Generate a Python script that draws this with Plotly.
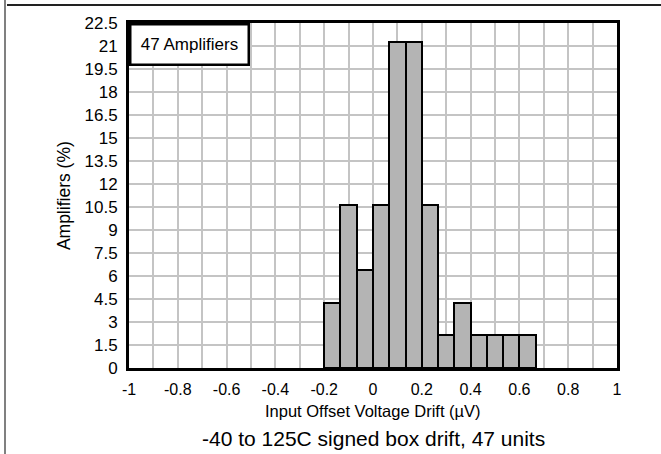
import plotly.graph_objects as go

# Histogram data: bin centres (µV) and percentage of amplifiers
bin_centers = [-0.1667, -0.1, -0.0333, 0.0333, 0.1, 0.1667, 0.2333, 0.3, 0.3667, 0.4333, 0.5, 0.5667, 0.6333]
percent = [4.26, 10.64, 6.38, 10.64, 21.28, 21.28, 10.64, 2.13, 4.26, 2.13, 2.13, 2.13, 2.13]
bin_width = 1 / 15

y_ticks = [0, 1.5, 3, 4.5, 6, 7.5, 9, 10.5, 12, 13.5, 15, 16.5, 18, 19.5, 21, 22.5]
y_labels = ["0", "1.5", "3", "4.5", "6", "7.5", "9", "10.5", "12", "13.5", "15", "16.5", "18", "19.5", "21", "22.5"]
x_ticks = [-1, -0.8, -0.6, -0.4, -0.2, 0, 0.2, 0.4, 0.6, 0.8, 1]
x_labels = ["-1", "-0.8", "-0.6", "-0.4", "-0.2", "0", "0.2", "0.4", "0.6", "0.8", "1"]

FONT = "Arial, Liberation Sans, sans-serif"

fig = go.Figure()
fig.add_trace(go.Bar(
    x=bin_centers, y=percent, width=bin_width,
    marker=dict(color="#b4b4b4", line=dict(color="black", width=2)),
))

fig.update_layout(
    width=661, height=454,
    margin=dict(l=129, r=44, t=23, b=86),
    paper_bgcolor="white", plot_bgcolor="white",
    showlegend=False,
    font=dict(family=FONT, size=17, color="black"),
    bargap=0,
)
fig.update_xaxes(
    range=[-1, 1], tickvals=x_ticks, ticktext=x_labels,
    showgrid=True, gridcolor="#c4c4c4", gridwidth=1.5,
    minor=dict(dtick=0.1, tick0=-1, showgrid=True, gridcolor="#c4c4c4", gridwidth=1.5),
    showline=True, linecolor="black", linewidth=3, mirror=True,
    zeroline=False, ticks="", tickfont=dict(size=16), ticklabelstandoff=5,
)
fig.update_yaxes(
    range=[0, 22.5], tickvals=y_ticks, ticktext=y_labels,
    showgrid=True, gridcolor="#c4c4c4", gridwidth=1.5,
    showline=True, linecolor="black", linewidth=3, mirror=True,
    zeroline=False, ticks="", tickfont=dict(size=17), ticklabelstandoff=5,
)

fig.add_annotation(
    xref="paper", yref="paper", x=0, y=1, xanchor="left", yanchor="top",
    text="47 Amplifiers", showarrow=False, font=dict(size=17),
    bgcolor="white", bordercolor="black", borderwidth=2.5,
    width=114, height=36, align="center",
)
fig.add_annotation(
    xref="paper", yref="paper", x=0.5, y=-0.125, xanchor="center", yanchor="middle",
    text="Input Offset Voltage Drift (µV)", showarrow=False, font=dict(size=16.5),
)
fig.add_annotation(
    xref="paper", yref="paper", x=0.5, y=-0.2029, xanchor="center", yanchor="middle",
    text="-40 to 125C signed box drift, 47 units", showarrow=False, font=dict(size=21),
)
fig.add_annotation(
    xref="paper", yref="paper", x=-0.134, y=0.5, xanchor="center", yanchor="middle",
    text="Amplifiers (%)", textangle=-90, showarrow=False, font=dict(size=17.5),
)

# outer frame lines of the original figure
fig.add_shape(type="line", xref="paper", yref="paper", x0=-0.25, x1=1.2, y0=1.0522, y1=1.0522,
              line=dict(color="#222222", width=2))
fig.add_shape(type="line", xref="paper", yref="paper", x0=-0.2541, x1=-0.2541, y0=1.2, y1=-0.3,
              line=dict(color="#808080", width=2))

fig.write_html("out.html", config={"displayModeBar": False},
               post_script="document.body.style.margin='0';document.body.style.overflow='hidden';")
